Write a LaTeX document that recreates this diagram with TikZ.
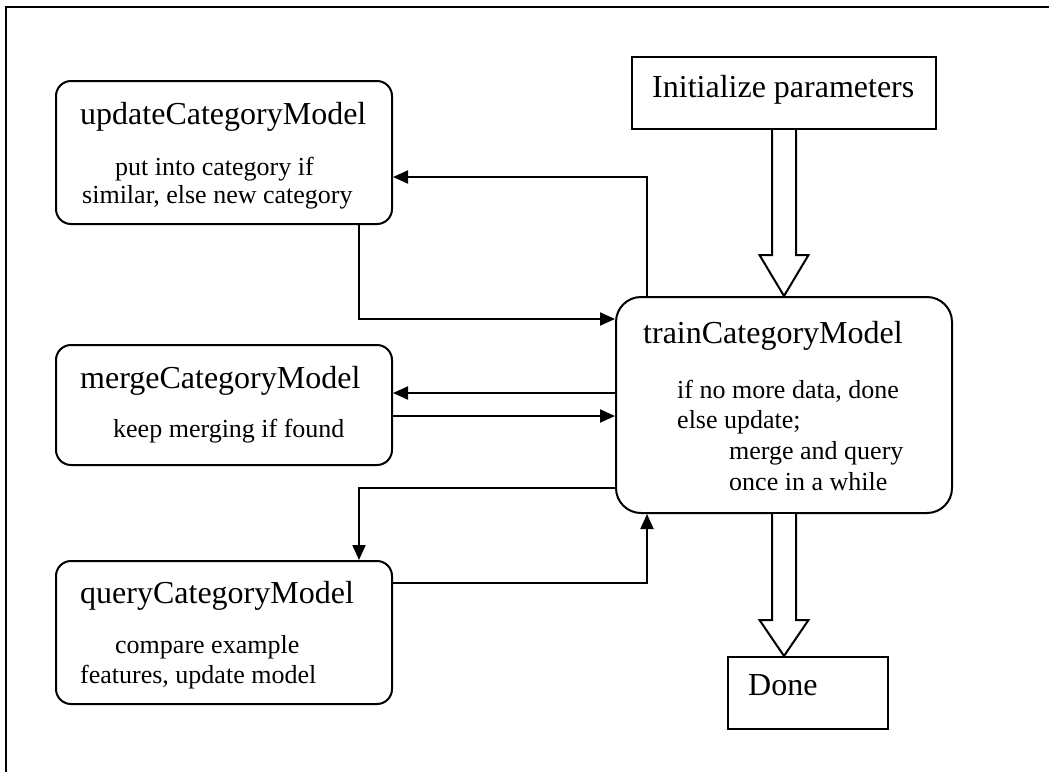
\documentclass[tikz,border=0pt]{standalone}
\usepackage{fontspec}
\setmainfont{Liberation Serif}
\usetikzlibrary{arrows.meta,calc}

\tikzset{
  stepbox/.style={draw, line width=2pt, rectangle, rounded corners=15pt,
    inner sep=0pt, anchor=north west},
  plainbox/.style={draw, line width=2pt, rectangle, inner sep=0pt, anchor=north west},
  title/.style={anchor=base west, inner sep=0pt, font=\fontsize{32}{38}\selectfont},
  body/.style={anchor=base west, inner sep=0pt, font=\fontsize{26}{30}\selectfont},
  conn/.style={line width=2pt, -{Triangle[length=15pt,width=13pt]}},
  hollow/.style={line width=2pt, fill=white, line join=miter},
}

\begin{document}
\begin{tikzpicture}[x=1pt, y=-1pt]
  \useasboundingbox (0,0) rectangle (1049,772);

  % frame (top and left edges)
  \draw[line width=2.5pt] (6,772) -- (6,7) -- (1049,7);

  % boxes
  \node[stepbox, minimum width=336pt, minimum height=143pt] (update) at (55,80) {};
  \node[stepbox, minimum width=336pt, minimum height=120pt] (merge)  at (55,344) {};
  \node[stepbox, minimum width=336pt, minimum height=143pt] (query)  at (55,560) {};
  \node[stepbox, rounded corners=25pt, minimum width=336pt, minimum height=216pt] (train) at (615,296) {};
  \node[plainbox, minimum width=304pt, minimum height=72pt] (init) at (631,56) {};
  \node[plainbox, minimum width=160pt, minimum height=72pt] (done) at (727,656) {};

  % texts
  \node[title] (updatetitle) at (80,124) {updateCategoryModel};
  \node[body]  (updatel1) at (115,175) {put into category if};
  \node[body]  (updatel2) at (82,203) {similar, else new category};

  \node[title] (mergetitle) at (80,388) {mergeCategoryModel};
  \node[body]  (mergel1) at (113,437) {keep merging if found};

  \node[title] (querytitle) at (80,603) {queryCategoryModel};
  \node[body]  (queryl1) at (115,653) {compare example};
  \node[body]  (queryl2) at (80,683) {features, update model};

  \node[title] (traintitle) at (643,343) {trainCategoryModel};
  \node[body]  (trainl1) at (677,398) {if no more data, done};
  \node[body]  (trainl2) at (677,428) {else update;};
  \node[body]  (trainl3) at (729,459) {merge and query};
  \node[body]  (trainl4) at (729,490) {once in a while};

  \node[title] (inittext) at (652,97) {Initialize parameters};
  \node[title] (donetext) at (748,695) {Done};

  % bend points of the connectors
  \coordinate (b1) at (647,177);
  \coordinate (b2) at (359,319);
  \coordinate (b3) at (0,393);
  \coordinate (b4) at (0,416);
  \coordinate (b5) at (359,488);
  \coordinate (b6) at (647,583);

  \draw[conn] (train.north -| b1) -- (b1) -- (b1 -| update.east);
  \draw[conn] (update.south -| b2) -- (b2) -- (b2 -| train.west);
  \draw[conn] (b3 -| train.west) -- (b3 -| merge.east);
  \draw[conn] (b4 -| merge.east) -- (b4 -| train.west);
  \draw[conn] (b5 -| train.west) -- (b5) -- (b5 |- query.north);
  \draw[conn] (b6 -| query.east) -- (b6) -- (b6 |- train.south);

  % block arrows
  \draw[hollow] let \p1=(init.south), \p2=(train.north) in
    (\x1-12pt,\y1) -- (\x1-12pt,\y2+41pt) -- (\x1-24.5pt,\y2+41pt) -- (\x2,\y2)
    -- (\x1+24.5pt,\y2+41pt) -- (\x1+12pt,\y2+41pt) -- (\x1+12pt,\y1);
  \draw[hollow] let \p1=(train.south), \p2=(done.north) in
    (\x1-12pt,\y1) -- (\x1-12pt,\y2+36pt) -- (\x1-24.5pt,\y2+36pt) -- (\x1,\y2)
    -- (\x1+24.5pt,\y2+36pt) -- (\x1+12pt,\y2+36pt) -- (\x1+12pt,\y1);
\end{tikzpicture}
\end{document}
